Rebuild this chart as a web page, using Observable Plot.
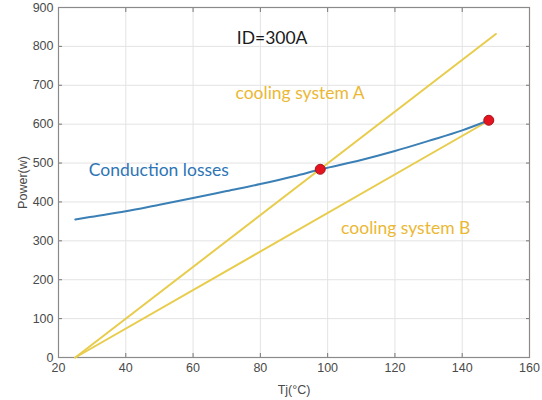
<!DOCTYPE html>
<html>
<head>
<meta charset="utf-8">
<script src="https://cdn.jsdelivr.net/npm/d3@7"></script>
<script src="https://cdn.jsdelivr.net/npm/@observablehq/plot@0.6"></script>
<style>
  html, body { margin: 0; padding: 0; background: #fff; }
  #chart { width: 542px; height: 400px; }
</style>
</head>
<body>
<div id="chart"></div>
<script>
// Tick values
const xTicks = [20, 40, 60, 80, 100, 120, 140, 160];
const yTicks = [0, 100, 200, 300, 400, 500, 600, 700, 800, 900];

// Conduction losses curve (Tj, Power)
const condTj    = [25, 30, 40, 50, 60, 70, 80, 90, 98, 110, 120, 130, 140, 148];
const condPower = [355, 362, 376, 393, 410, 428, 446, 466, 484, 508, 531, 557, 584, 610];

// Cooling system lines
const coolATj = [25, 150];
const coolAPower = [0, 832];
const coolBTj = [25, 148.5];
const coolBPower = [0, 612];

// Operating points (intersections)
const opTj = [97.8, 147.9];
const opPower = [484, 610];

// Annotations
const noteText  = ["ID=300A", "cooling system A", "Conduction losses", "cooling system B"];
const noteTj    = [73, 72.6, 29, 104];
const notePower = [820, 680, 481, 332];
const noteColor = ["#1a1a1a", "#ebb834", "#2e75b6", "#ebb834"];

const cond = condTj.map((t, i) => ({t, p: condPower[i]}));
const coolA = coolATj.map((t, i) => ({t, p: coolAPower[i]}));
const coolB = coolBTj.map((t, i) => ({t, p: coolBPower[i]}));
const ops = opTj.map((t, i) => ({t, p: opPower[i]}));
const notes = noteText.map((s, i) => ({s, t: noteTj[i], p: notePower[i], c: noteColor[i]}));

const blank = () => "";

const chart = Plot.plot({
  width: 542,
  height: 400,
  marginLeft: 58,
  marginRight: 13,
  marginTop: 7,
  marginBottom: 43,
  style: {fontFamily: "Liberation Sans, Arial, sans-serif", fontSize: "12.5px", color: "#4a4a4a", background: "#fff"},
  x: {domain: [20, 160]},
  y: {domain: [0, 900]},
  marks: [
    Plot.gridX(xTicks, {stroke: "#e3e3e3", strokeOpacity: 1}),
    Plot.gridY(yTicks, {stroke: "#e3e3e3", strokeOpacity: 1}),
    Plot.axisX({ticks: xTicks, tickSize: -4, tickPadding: 10, stroke: "#777", label: "Tj(°C)", labelArrow: "none", labelAnchor: "center", labelOffset: 36, fontSize: 12.5}),
    Plot.axisX({ticks: xTicks, anchor: "top", tickSize: -4, tickFormat: blank, label: null, stroke: "#777"}),
    Plot.axisY({ticks: yTicks, tickSize: -4, tickPadding: 9, stroke: "#777", label: "Power(w)", labelArrow: "none", labelAnchor: "center", labelOffset: 40, fontSize: 12.5}),
    Plot.axisY({ticks: yTicks, anchor: "right", tickSize: -4, tickFormat: blank, label: null, stroke: "#777"}),
    Plot.frame({stroke: "#8a8a8a", strokeWidth: 1.2}),
    Plot.line(coolA, {x: "t", y: "p", stroke: "#e8cc4c", strokeWidth: 2}),
    Plot.line(coolB, {x: "t", y: "p", stroke: "#e8cc4c", strokeWidth: 2}),
    Plot.line(cond, {x: "t", y: "p", stroke: "#3a7fb5", strokeWidth: 2, curve: "monotone-x"}),
    Plot.dot(ops, {x: "t", y: "p", r: 5, fill: "#e5131f", stroke: "#a51419", strokeWidth: 1}),
    Plot.text(notes, {x: "t", y: "p", text: "s", fill: "c", textAnchor: "start", fontSize: 17.5, fontFamily: "Lato, 'Open Sans', sans-serif"})
  ]
});
document.getElementById("chart").appendChild(chart);
</script>
</body>
</html>
